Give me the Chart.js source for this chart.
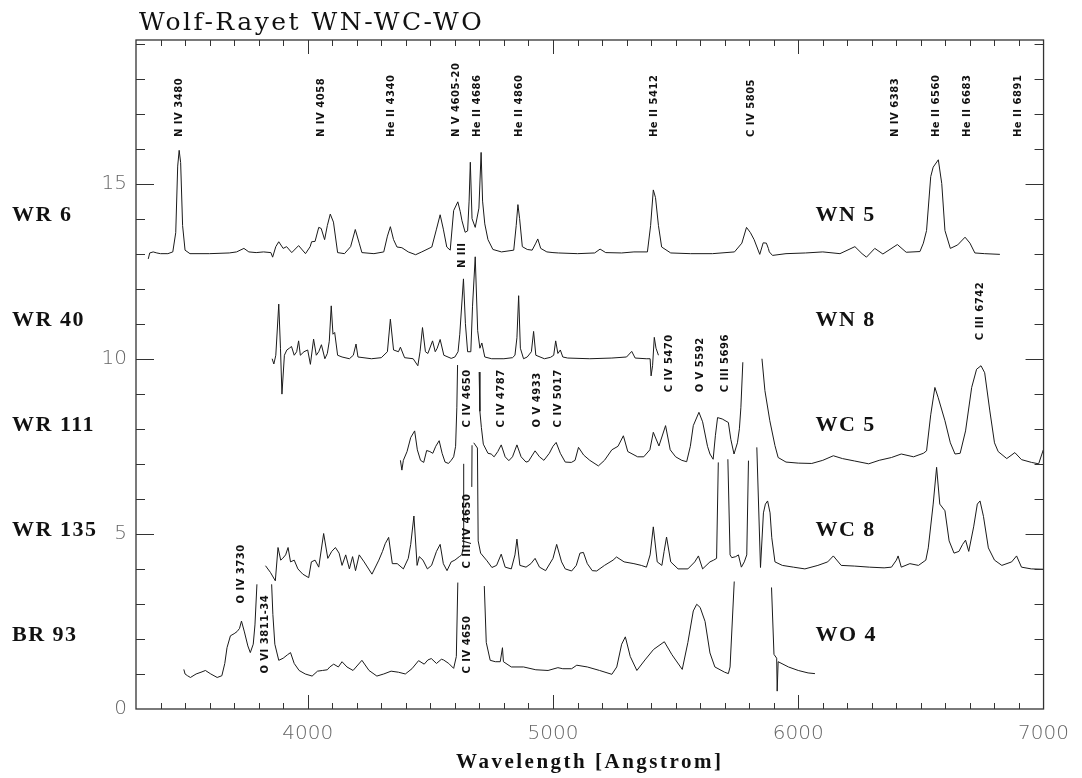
<!DOCTYPE html>
<html>
<head>
<meta charset="utf-8">
<title>Wolf-Rayet WN-WC-WO</title>
<script src="https://cdn.jsdelivr.net/npm/chart.js@4.4.1/dist/chart.umd.min.js"></script>
<style>
  html, body { margin: 0; padding: 0; background: #fff; }
  #wrap { width: 1082px; height: 778px; }
</style>
</head>
<body>
<div id="wrap"><canvas id="spectra" width="1082" height="778"></canvas></div>
<script>
// each spectrum: [wavelength (Angstrom), flux + offset]; null flux = clipped peak
const wr6 = [
  [3350, 12.85], [3356, 13.02], [3370, 13.05], [3385, 13.02], [3400, 13.0], [3430, 13.0], [3450, 13.05],
  [3462, 13.6], [3470, 15.5], [3476, 15.95], [3482, 15.6], [3490, 13.8], [3500, 13.1], [3520, 13.0],
  [3600, 13.0], [3680, 13.02], [3710, 13.05], [3740, 13.15], [3760, 13.05], [3790, 13.03], [3820, 13.05],
  [3850, 13.03], [3857, 12.9], [3870, 13.2], [3882, 13.34], [3900, 13.15], [3914, 13.2], [3935, 13.03],
  [3963, 13.23], [3991, 13.0], [4010, 13.2], [4016, 13.34], [4030, 13.35], [4045, 13.75], [4055, 13.72],
  [4069, 13.4], [4080, 13.8], [4092, 14.13], [4105, 13.9], [4122, 13.03], [4150, 13.0], [4175, 13.2],
  [4194, 13.69], [4210, 13.3], [4221, 13.03], [4270, 13.0], [4310, 13.05], [4325, 13.5], [4337, 13.77],
  [4350, 13.4], [4364, 13.19], [4384, 13.17], [4410, 13.05], [4440, 12.97], [4465, 13.05], [4506, 13.19],
  [4525, 13.7], [4540, 14.11], [4553, 13.7], [4567, 13.19], [4581, 13.1], [4595, 14.23], [4612, 14.48],
  [4622, 14.2], [4629, 13.94], [4642, 13.61], [4652, 13.65], [4658, 14.5], [4663, 15.61], [4670, 14.0],
  [4683, 13.75], [4698, 14.3], [4707, 15.89], [4713, 14.5], [4722, 13.85], [4735, 13.4], [4755, 13.12],
  [4790, 13.05], [4840, 13.1], [4850, 13.8], [4857, 14.4], [4864, 14.0], [4875, 13.2], [4895, 13.12],
  [4915, 13.1], [4930, 13.3], [4938, 13.42], [4950, 13.15], [4975, 13.05], [5000, 13.03], [5022, 13.02],
  [5100, 13.0], [5170, 13.02], [5192, 13.13], [5215, 13.03], [5280, 13.02], [5330, 13.05], [5385, 13.05],
  [5398, 13.8], [5409, 14.82], [5418, 14.6], [5430, 13.8], [5443, 13.19], [5480, 13.02], [5560, 13.0],
  [5650, 13.0], [5740, 13.05], [5770, 13.3], [5789, 13.75], [5805, 13.6], [5820, 13.4], [5843, 12.98],
  [5857, 13.31], [5870, 13.3], [5878, 13.15], [5882, 13.05], [5895, 12.95], [5950, 13.0], [6030, 13.02],
  [6100, 13.05], [6170, 13.0], [6231, 13.2], [6260, 13.0], [6278, 12.9], [6312, 13.15], [6345, 12.99],
  [6404, 13.26], [6440, 13.04], [6496, 13.06], [6510, 13.3], [6523, 13.66], [6540, 15.2], [6550, 15.47],
  [6571, 15.68], [6585, 15.0], [6598, 13.66], [6620, 13.15], [6650, 13.25], [6680, 13.47], [6700, 13.3],
  [6720, 13.02], [6760, 13.0], [6822, 12.98]
];

const wr40 = [
  [3855, 10.0], [3862, 9.85], [3870, 10.1], [3882, 11.56], [3889, 10.3], [3895, 8.99], [3905, 10.1],
  [3915, 10.25], [3925, 10.3], [3934, 10.35], [3945, 10.1], [3955, 10.2], [3963, 10.51], [3970, 10.1],
  [3985, 10.2], [4000, 10.25], [4011, 9.84], [4024, 10.56], [4035, 10.1], [4045, 10.2], [4056, 10.4],
  [4070, 10.0], [4080, 10.15], [4088, 10.5], [4096, 11.51], [4103, 10.7], [4110, 10.75], [4122, 10.1],
  [4140, 10.05], [4170, 10.0], [4186, 10.1], [4197, 10.42], [4205, 10.05], [4260, 10.0], [4300, 10.03],
  [4325, 10.2], [4337, 11.13], [4350, 10.25], [4370, 10.2], [4378, 10.33], [4395, 10.03], [4430, 10.0],
  [4449, 9.8], [4458, 10.2], [4468, 10.89], [4480, 10.2], [4490, 10.15], [4509, 10.51], [4520, 10.2],
  [4528, 10.3], [4540, 10.55], [4555, 10.1], [4585, 10.01], [4600, 10.05], [4613, 10.2], [4620, 10.7],
  [4635, 12.28], [4643, 11.0], [4652, 10.2], [4665, 10.2], [4672, 11.5], [4683, 12.91], [4693, 10.8],
  [4702, 10.3], [4710, 10.45], [4722, 10.05], [4750, 10.0], [4800, 10.0], [4835, 10.03], [4845, 10.1],
  [4853, 10.6], [4860, 11.8], [4867, 10.3], [4880, 10.0], [4895, 10.05], [4912, 10.2], [4921, 10.78],
  [4930, 10.1], [4965, 10.0], [4990, 10.04], [5003, 10.1], [5011, 10.51], [5020, 10.15], [5030, 10.25],
  [5040, 10.05], [5060, 10.02], [5150, 10.0], [5240, 10.02], [5300, 10.05], [5321, 10.21], [5335, 10.02],
  [5380, 10.0], [5396, 10.0], [5400, 9.51], [5406, 9.8], [5413, 10.61], [5420, 10.3], [5430, 10.1]
];

const wr111 = [
  [4378, 7.1], [4384, 6.82], [4390, 7.1], [4405, 7.35], [4420, 7.75], [4436, 7.94], [4447, 7.4],
  [4460, 7.1], [4473, 7.04], [4485, 7.38], [4498, 7.35], [4510, 7.3], [4522, 7.5], [4536, 7.66],
  [4548, 7.3], [4560, 7.05], [4574, 7.01], [4585, 7.1], [4595, 7.2], [4603, 7.5], [4608, 8.6],
  [4611, 9.82], [4650, null], [4699, 9.62], [4702, 8.5], [4708, 8.04], [4716, 7.56], [4735, 7.3],
  [4748, 7.28], [4760, 7.2], [4775, 7.35], [4789, 7.54], [4805, 7.2], [4820, 7.09], [4835, 7.2],
  [4853, 7.54], [4870, 7.2], [4890, 7.05], [4900, 7.07], [4927, 7.37], [4945, 7.2], [4963, 7.1],
  [4985, 7.3], [5000, 7.5], [5013, 7.61], [5030, 7.3], [5050, 7.05], [5075, 7.04], [5090, 7.1],
  [5104, 7.47], [5125, 7.25], [5150, 7.1], [5185, 6.94], [5210, 7.1], [5240, 7.4], [5265, 7.5],
  [5287, 7.8], [5305, 7.35], [5345, 7.2], [5370, 7.2], [5395, 7.4], [5409, 7.9], [5432, 7.51],
  [5459, 8.09], [5478, 7.4], [5500, 7.2], [5525, 7.1], [5545, 7.06], [5560, 7.5], [5572, 8.09],
  [5595, 8.47], [5610, 8.2], [5630, 7.5], [5640, 7.28], [5653, 7.13], [5662, 7.8], [5671, 8.32],
  [5690, 8.28], [5715, 8.18], [5725, 7.7], [5738, 7.28], [5752, 7.6], [5760, 8.0], [5766, 8.6],
  [5774, 9.9], [5810, null], [5852, 10.0], [5864, 9.09], [5884, 8.23], [5905, 7.52], [5918, 7.18],
  [5950, 7.05], [6000, 7.02], [6055, 7.01], [6100, 7.1], [6143, 7.23], [6180, 7.15], [6230, 7.08],
  [6287, 7.0], [6330, 7.1], [6380, 7.18], [6420, 7.28], [6470, 7.2], [6510, 7.3], [6523, 7.37],
  [6540, 8.4], [6557, 9.18], [6570, 8.9], [6598, 8.23], [6620, 7.6], [6639, 7.28], [6660, 7.3],
  [6682, 7.94], [6707, 9.18], [6727, 9.7], [6745, 9.8], [6760, 9.6], [6781, 8.51], [6800, 7.6],
  [6815, 7.35], [6850, 7.15], [6883, 7.32], [6910, 7.12], [6951, 7.04], [6980, 7.0], [6999, 7.4]
];

const wr135 = [
  [3828, 4.09], [3848, 3.9], [3868, 3.66], [3879, 4.61], [3890, 4.25], [3898, 4.3], [3910, 4.4],
  [3920, 4.61], [3930, 4.2], [3945, 4.25], [3960, 4.0], [3980, 3.85], [4004, 3.75], [4015, 4.2],
  [4030, 4.25], [4045, 4.05], [4065, 5.01], [4082, 4.3], [4098, 4.5], [4113, 4.61], [4128, 4.45],
  [4140, 4.1], [4155, 4.4], [4170, 4.0], [4183, 4.35], [4195, 3.95], [4210, 4.4], [4230, 4.2],
  [4262, 3.85], [4290, 4.25], [4305, 4.5], [4316, 4.72], [4330, 4.9], [4345, 4.15], [4365, 4.15],
  [4390, 4.0], [4410, 4.3], [4420, 4.7], [4433, 5.51], [4446, 4.1], [4455, 4.35], [4470, 4.25],
  [4488, 4.0], [4505, 4.1], [4525, 4.5], [4540, 4.7], [4553, 4.15], [4568, 3.95], [4585, 4.2],
  [4600, 4.25], [4618, 4.35], [4628, 4.4], [4634, 4.6], [4636, 7.0], [4650, null], [4669, 6.34],
  [4670, 7.53], [4674, null], [4677, 7.6], [4692, 7.45], [4695, 4.8], [4705, 4.45], [4731, 4.23],
  [4751, 4.04], [4770, 4.1], [4789, 4.42], [4805, 4.05], [4830, 4.0], [4845, 4.4], [4853, 4.85],
  [4865, 4.1], [4890, 4.05], [4910, 4.15], [4927, 4.3], [4945, 4.05], [4970, 3.95], [5000, 4.3],
  [5015, 4.7], [5035, 4.2], [5050, 4.0], [5076, 3.94], [5095, 4.1], [5110, 4.45], [5124, 4.47],
  [5140, 4.15], [5160, 3.95], [5178, 3.94], [5210, 4.1], [5245, 4.25], [5259, 4.34], [5290, 4.2],
  [5330, 4.15], [5360, 4.1], [5381, 4.05], [5396, 4.4], [5409, 5.2], [5425, 4.2], [5444, 4.1],
  [5453, 4.5], [5463, 4.91], [5480, 4.2], [5510, 4.0], [5550, 4.0], [5578, 4.2], [5593, 4.37],
  [5610, 4.0], [5640, 4.2], [5655, 4.25], [5667, 4.3], [5674, 7.04], [5695, null], [5713, 7.13],
  [5722, 4.4], [5729, 4.32], [5745, 4.35], [5756, 4.4], [5768, 4.05], [5780, 4.2], [5790, 4.4],
  [5797, 7.09], [5815, null], [5831, 7.47], [5846, 4.04], [5858, 5.6], [5866, 5.85], [5875, 5.94],
  [5885, 5.6], [5892, 4.89], [5905, 4.2], [5935, 4.1], [5980, 4.05], [6027, 4.0], [6080, 4.1],
  [6120, 4.2], [6143, 4.37], [6175, 4.1], [6230, 4.08], [6290, 4.05], [6350, 4.03], [6380, 4.05],
  [6400, 4.25], [6407, 4.37], [6420, 4.05], [6455, 4.15], [6490, 4.1], [6520, 4.25], [6530, 4.6],
  [6550, 5.85], [6564, 6.9], [6577, 5.85], [6598, 5.66], [6615, 4.8], [6635, 4.45], [6655, 4.5],
  [6670, 4.7], [6682, 4.82], [6695, 4.5], [6715, 5.2], [6730, 5.85], [6741, 5.94], [6755, 5.5],
  [6775, 4.6], [6800, 4.25], [6830, 4.1], [6870, 4.2], [6890, 4.37], [6910, 4.05], [6950, 4.0],
  [6999, 3.99]
];

const br93 = [
  [3495, 1.13], [3500, 1.0], [3510, 0.95], [3522, 0.9], [3545, 1.0], [3565, 1.05], [3583, 1.1],
  [3605, 1.0], [3631, 0.9], [3650, 0.95], [3662, 1.3], [3671, 1.75], [3685, 2.09], [3700, 2.15],
  [3712, 2.21], [3722, 2.3], [3730, 2.51], [3742, 2.2], [3756, 1.8], [3766, 1.61], [3778, 1.85],
  [3785, 2.4], [3793, 3.56], [3820, null], [3853, 3.56], [3858, 2.7], [3866, 1.85], [3882, 1.39],
  [3900, 1.45], [3918, 1.55], [3930, 1.61], [3945, 1.3], [3965, 1.1], [3990, 1.0], [4018, 0.94],
  [4040, 1.08], [4060, 1.1], [4080, 1.12], [4090, 1.2], [4106, 1.28], [4125, 1.2], [4140, 1.35],
  [4160, 1.2], [4185, 1.1], [4221, 1.39], [4250, 1.1], [4282, 0.94], [4310, 1.0], [4340, 1.08],
  [4370, 1.05], [4398, 1.0], [4425, 1.15], [4452, 1.38], [4475, 1.28], [4490, 1.4], [4504, 1.44],
  [4525, 1.3], [4545, 1.42], [4554, 1.4], [4575, 1.3], [4595, 1.16], [4606, 1.5], [4612, 3.61],
  [4660, null], [4720, 3.51], [4728, 1.9], [4744, 1.39], [4765, 1.35], [4785, 1.35], [4794, 1.75],
  [4798, 1.35], [4830, 1.2], [4880, 1.2], [4930, 1.12], [4980, 1.1], [5020, 1.18], [5040, 1.15],
  [5076, 1.15], [5097, 1.25], [5140, 1.2], [5190, 1.1], [5240, 0.99], [5260, 1.2], [5280, 1.85],
  [5295, 2.06], [5315, 1.5], [5342, 1.1], [5375, 1.4], [5410, 1.7], [5454, 1.92], [5485, 1.55],
  [5527, 1.13], [5550, 1.9], [5572, 2.8], [5586, 2.99], [5600, 2.9], [5620, 2.5], [5640, 1.6],
  [5660, 1.2], [5700, 1.05], [5715, 1.01], [5722, 1.2], [5739, 3.64], [5800, null], [5891, 3.47],
  [5901, 1.56], [5912, 1.45], [5914, 0.51], [5918, 1.35], [5960, 1.2], [6000, 1.1], [6040, 1.03],
  [6068, 1.01]
];

const spectra = [wr6, wr40, wr111, wr135, br93];
const starNames = ['WR 6', 'WR 40', 'WR 111', 'WR 135', 'BR 93'];
const starTypes = ['WN 5', 'WN 8', 'WC 5', 'WC 8', 'WO 4'];
const starLevels = [14.1, 11.1, 8.1, 5.1, 2.1];

// line identifications: text, wavelength of the label, level where the text starts
const lineNames = [
  'N IV 3480', 'N IV 4058', 'He II 4340', 'N V 4605-20', 'He II 4686', 'He II 4860', 'He II 5412',
  'C IV 5805', 'N IV 6383', 'He II 6560', 'He II 6683', 'He II 6891', 'N III',
  'C IV 4650', 'C IV 4787', 'O V 4933', 'C IV 5017', 'C IV 5470', 'O V 5592', 'C III 5696', 'C III 6742',
  'C III/IV 4650', 'O IV 3730', 'O VI 3811-34', 'C IV 4650'
];
const lineWaves = [
  3477, 4056, 4341, 4606, 4690, 4862, 5413, 5807, 6394, 6563, 6690, 6896, 4629,
  4653, 4791, 4938, 5022, 5473, 5600, 5701, 6744,
  4653, 3730, 3828, 4653
];
const lineBases = [
  16.33, 16.33, 16.33, 16.33, 16.33, 16.33, 16.33, 16.33, 16.33, 16.33, 16.33, 16.33, 12.59,
  8.04, 8.04, 8.04, 8.04, 9.04, 9.04, 9.04, 10.53,
  4.01, 3.01, 1.01, 1.01
];

const xTicks = [4000, 5000, 6000, 7000];
const yTicks = [0, 5, 10, 15];

const annotations = {
  id: 'annotations',
  afterDraw(chart) {
    const { ctx, chartArea: area, scales: { x, y } } = chart;
    ctx.save();

    // frame and inward tick marks on all four sides
    ctx.strokeStyle = '#333';
    ctx.lineWidth = 1.3;
    ctx.strokeRect(area.left, area.top, area.right - area.left, area.bottom - area.top);
    ctx.lineWidth = 1;
    ctx.beginPath();
    for (let w = 3400; w < 7000; w += 100) {
      const px = Math.round(x.getPixelForValue(w)) + 0.5;
      const len = w % 1000 === 0 ? 14 : 6;
      ctx.moveTo(px, area.bottom);
      ctx.lineTo(px, area.bottom - len);
      ctx.moveTo(px, area.top);
      ctx.lineTo(px, area.top + len);
    }
    for (let v = 1; v <= 19; v++) {
      const py = Math.round(y.getPixelForValue(v)) + 0.5;
      const len = v % 5 === 0 ? 18 : 9;
      ctx.moveTo(area.left, py);
      ctx.lineTo(area.left + len, py);
      ctx.moveTo(area.right, py);
      ctx.lineTo(area.right - len, py);
    }
    ctx.stroke();

    ctx.fillStyle = '#111';

    // title
    ctx.font = '25px "DejaVu Serif"';
    ctx.letterSpacing = '2.5px';
    ctx.textAlign = 'left';
    ctx.textBaseline = 'alphabetic';
    ctx.fillText('Wolf-Rayet WN-WC-WO', area.left + 3, 30);

    // x axis title
    ctx.font = 'bold 21px "Liberation Serif"';
    ctx.letterSpacing = '2.5px';
    ctx.textAlign = 'center';
    ctx.fillText('Wavelength [Angstrom]', (area.left + area.right) / 2, 768);

    // star names and spectral types
    ctx.font = 'bold 22px "Liberation Serif"';
    ctx.letterSpacing = '1.5px';
    ctx.textBaseline = 'middle';
    starNames.forEach((name, i) => {
      const py = y.getPixelForValue(starLevels[i]);
      ctx.textAlign = 'left';
      ctx.fillText(name, 12, py);
      ctx.fillText(starTypes[i], x.getPixelForValue(6070), py);
    });

    // rotated line identifications
    ctx.font = 'bold 10px "DejaVu Sans"';
    ctx.letterSpacing = '0.5px';
    ctx.textAlign = 'left';
    ctx.textBaseline = 'middle';
    lineNames.forEach((name, i) => {
      ctx.save();
      ctx.translate(x.getPixelForValue(lineWaves[i]), y.getPixelForValue(lineBases[i]));
      ctx.rotate(-Math.PI / 2);
      ctx.fillText(name, 0, 0);
      ctx.restore();
    });

    ctx.restore();
  }
};

new Chart(document.getElementById('spectra'), {
  type: 'line',
  data: {
    datasets: spectra.map((s, i) => ({
      label: starNames[i],
      data: s.map(([w, f]) => ({ x: w, y: f })),
      borderColor: '#1a1a1a',
      borderWidth: 1,
      pointRadius: 0,
      spanGaps: false,
      tension: 0
    }))
  },
  options: {
    responsive: false,
    animation: false,
    layout: { padding: { top: 40, right: 37, left: 0, bottom: 0 } },
    plugins: { legend: { display: false }, tooltip: { enabled: false } },
    scales: {
      x: {
        type: 'linear',
        min: 3300,
        max: 7000,
        afterFit: (s) => { s.height = 69; },
        afterBuildTicks: (s) => { s.ticks = xTicks.map((v) => ({ value: v })); },
        grid: { display: false, drawTicks: false },
        border: { display: false },
        ticks: {
          padding: 13,
          maxRotation: 0,
          color: '#666',
          font: { family: 'DejaVu Sans', size: 20, weight: '200' },
          callback: (v) => String(v)
        }
      },
      y: {
        min: 0,
        max: 19.1,
        afterFit: (s) => { s.width = 136; },
        afterBuildTicks: (s) => { s.ticks = yTicks.map((v) => ({ value: v })); },
        grid: { display: false, drawTicks: false },
        border: { display: false },
        ticks: {
          padding: 9,
          color: '#666',
          font: { family: 'DejaVu Sans', size: 20, weight: '200' },
          callback: (v) => String(v)
        }
      }
    }
  },
  plugins: [annotations]
});
</script>
</body>
</html>
